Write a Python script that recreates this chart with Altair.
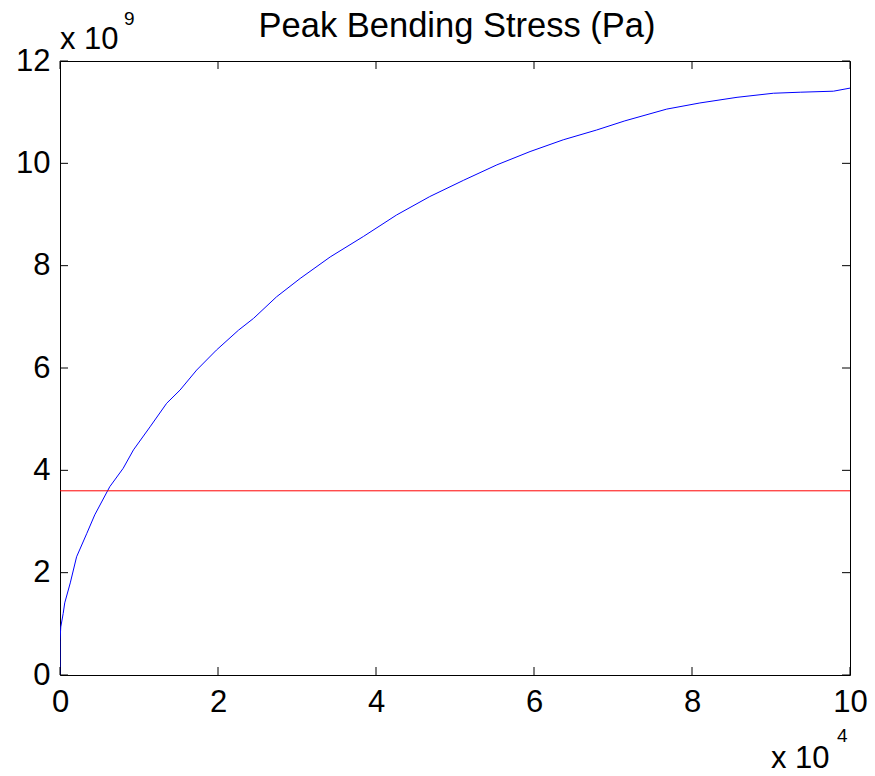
import altair as alt
import pandas as pd

# ---- data (x in units of 1e4, y in units of 1e9) ----
x_vals = [0, 0, 0.01, 0.04, 0.06, 0.13, 0.21, 0.34, 0.44, 0.63, 0.80, 0.93, 1.14, 1.35,
          1.52, 1.73, 1.98, 2.26, 2.45, 2.74, 3.04, 3.42, 3.84, 4.26, 4.68, 5.11, 5.53,
          5.95, 6.37, 6.79, 7.15, 7.68, 8.10, 8.57, 9.03, 9.37, 9.79, 10.0]
y_vals = [0, 0.68, 0.94, 1.20, 1.41, 1.80, 2.31, 2.77, 3.13, 3.68, 4.04, 4.40, 4.85, 5.31,
          5.57, 5.96, 6.35, 6.74, 6.97, 7.39, 7.75, 8.17, 8.57, 8.99, 9.35, 9.67, 9.97,
          10.23, 10.46, 10.65, 10.83, 11.06, 11.18, 11.29, 11.37, 11.39, 11.41, 11.47]
ref_level = [3.6]
x_ticks = [0, 2, 4, 6, 8, 10]
y_ticks = [0, 2, 4, 6, 8, 10, 12]

title_text = ["Peak Bending Stress (Pa)"]
mult_base = ["x 10"]
y_exp = ["9"]
x_exp = ["4"]

W, H = 790, 614
FONT = "Liberation Sans"
TICK = 8

df = pd.DataFrame({"x": x_vals, "y": y_vals, "i": list(range(len(x_vals)))})
xs = alt.Scale(domain=[0, 10], nice=False, zero=False)
ys = alt.Scale(domain=[0, 12], nice=False, zero=False)

common_axis = dict(title=None, domain=False, ticks=False, grid=False,
                   labelFont=FONT, labelFontSize=31, labelColor="black",
                   labelFlush=False, labelOverlap=False, labelBound=False)
x_axis = alt.Axis(values=x_ticks, labelPadding=12, **common_axis)
y_axis = alt.Axis(values=y_ticks, labelPadding=10, **common_axis)

line = alt.Chart(df).mark_line(color="#0000ff", strokeWidth=1, clip=True).encode(
    x=alt.X("x:Q", scale=xs, axis=x_axis),
    y=alt.Y("y:Q", scale=ys, axis=y_axis),
    order="i:Q",
)

ref = alt.Chart(pd.DataFrame({"r": ref_level})).mark_rule(color="#ff0000", strokeWidth=1).encode(
    y=alt.Y("r:Q", scale=ys, axis=y_axis)
)

xt = pd.DataFrame({"t": x_ticks})
yt = pd.DataFrame({"t": y_ticks})
tick_bottom = alt.Chart(xt).mark_rule(color="black", strokeWidth=1).encode(
    x=alt.X("t:Q", scale=xs, axis=x_axis), y=alt.value(H), y2=alt.value(H - TICK))
tick_top = alt.Chart(xt).mark_rule(color="black", strokeWidth=1).encode(
    x=alt.X("t:Q", scale=xs, axis=x_axis), y=alt.value(0), y2=alt.value(TICK))
tick_left = alt.Chart(yt).mark_rule(color="black", strokeWidth=1).encode(
    y=alt.Y("t:Q", scale=ys, axis=y_axis), x=alt.value(0), x2=alt.value(TICK))
tick_right = alt.Chart(yt).mark_rule(color="black", strokeWidth=1).encode(
    y=alt.Y("t:Q", scale=ys, axis=y_axis), x=alt.value(W), x2=alt.value(W - TICK))


def label(text, size, x, y, align="left"):
    return alt.Chart(pd.DataFrame({"s": text})).mark_text(
        font=FONT, fontSize=size, align=align, baseline="alphabetic", color="black"
    ).encode(text="s:N", x=alt.value(x), y=alt.value(y))


title = label(title_text, 34.5, W / 2 + 2, -24, align="center")
ymult = label(mult_base, 31, 0, -12)
yexp = label(y_exp, 19, 64, -36)
xmult = label(mult_base, 31, 711, 707)
xexp = label(x_exp, 19, 777, 681)

chart = alt.layer(
    line, ref, tick_bottom, tick_top, tick_left, tick_right,
    title, ymult, yexp, xmult, xexp
).properties(
    width=W, height=H,
    autosize=alt.AutoSizeParams(type="none"),
    padding={"left": 60, "top": 61, "right": 25, "bottom": 101},
    background="white",
).configure_view(stroke="black", strokeWidth=1)

chart.save("out.html", embed_options={"renderer": "svg", "actions": False})
